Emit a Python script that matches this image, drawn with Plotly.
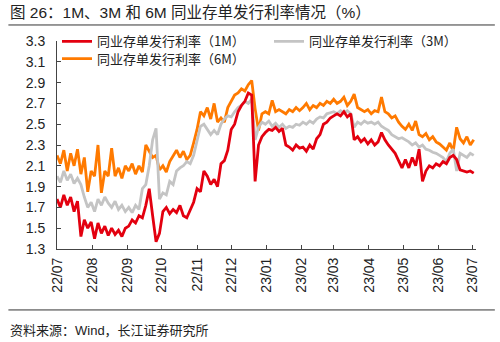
import pandas as pd
import plotly.graph_objects as go

# sample dates: every 3 days from 2022-07-01
dates = pd.date_range("2022-07-01", periods=123, freq="3D")

rate_1m = [
    # Jul 22
    1.78, 1.70, 1.82, 1.72, 1.80, 1.66, 1.76, 1.42, 1.58, 1.50, 1.56,
    # Aug
    1.40, 1.55, 1.45, 1.52, 1.43, 1.50, 1.44, 1.48, 1.42, 1.50,
    # Sep
    1.52, 1.58, 1.55, 1.62, 1.60, 1.72, 1.88, 1.62, 1.37, 1.45,
    # Oct
    1.66, 1.70, 1.64, 1.68, 1.65, 1.72, 1.62, 1.60, 1.68, 1.75,
    # Nov
    1.88, 1.85, 2.05, 2.00, 1.92, 1.97, 1.90, 2.12, 2.15, 2.25,
    # Dec
    2.45, 2.50, 2.62, 2.68, 2.72, 2.80, 2.78, 1.95, 2.30, 2.38,
    # Jan 23
    2.42, 2.45, 2.44, 2.47, 2.43, 2.46, 2.30, 2.28, 2.25, 2.30, 2.27,
    # Feb
    2.28, 2.24, 2.30, 2.26, 2.36, 2.40, 2.50, 2.52, 2.56,
    # Mar
    2.58, 2.60, 2.58, 2.62, 2.57, 2.60, 2.35, 2.38, 2.33, 2.36, 2.31,
    # Apr
    2.35, 2.30, 2.33, 2.42, 2.35, 2.30, 2.26, 2.22, 2.15, 2.08,
    # May
    2.16, 2.08, 2.18, 2.10, 2.26, 1.95, 2.05, 2.10, 2.08, 2.12,
    # Jun
    2.10, 2.14, 2.12, 2.18, 2.20, 2.16, 2.06, 2.05, 2.04, 2.05,
    # Jul
    2.03,
]

rate_3m = [
    # Jul 22
    2.00, 1.94, 2.05, 1.96, 2.02, 1.93, 1.98, 1.92, 1.80, 1.70, 1.75,
    # Aug
    1.66, 1.78, 1.72, 1.80, 1.74, 1.70, 1.76, 1.68, 1.72, 1.66,
    # Sep
    1.70, 1.65, 1.72, 1.68, 1.88, 1.92, 2.10, 2.35, 2.46, 1.78,
    # Oct
    1.84, 1.82, 1.95, 1.92, 2.05, 2.08, 2.10, 2.14, 2.12, 2.20,
    # Nov
    2.35, 2.48, 2.50, 2.45, 2.40, 2.44, 2.40, 2.50, 2.55, 2.58,
    # Dec
    2.57, 2.62, 2.66, 2.68, 2.72, 2.70, 2.74, 2.35, 2.47, 2.52,
    # Jan 23
    2.50, 2.53, 2.48, 2.51, 2.47, 2.50, 2.46, 2.48, 2.47, 2.50, 2.49,
    # Feb
    2.52, 2.50, 2.53, 2.51, 2.55, 2.57, 2.56, 2.60, 2.61,
    # Mar
    2.62, 2.60, 2.63, 2.61, 2.63, 2.60, 2.47, 2.52, 2.50, 2.53, 2.51,
    # Apr
    2.52, 2.50, 2.52, 2.48, 2.46, 2.44, 2.40, 2.38, 2.36, 2.37,
    # May
    2.35, 2.33, 2.30, 2.32, 2.28, 2.30, 2.26, 2.25, 2.23, 2.22,
    # Jun
    2.20, 2.18, 2.14, 2.22, 2.26, 2.05, 2.22, 2.20, 2.18, 2.22,
    # Jul
    2.20,
]

rate_6m = [
    # Jul 22
    2.20, 2.12, 2.25, 2.05, 2.22, 2.10, 2.26, 2.02, 2.18, 1.85, 2.05,
    # Aug
    2.00, 2.30, 1.84, 2.05, 2.00, 2.27, 2.00, 2.08, 1.98, 2.10,
    # Sep
    2.05, 2.12, 2.02, 2.10, 2.04, 2.30, 2.24, 2.18, 2.20, 2.06,
    # Oct
    2.10, 2.04, 2.14, 2.20, 2.25, 2.18, 2.24, 2.16, 2.20, 2.32,
    # Nov
    2.45, 2.62, 2.58, 2.66, 2.55, 2.70, 2.52, 2.56, 2.52, 2.66,
    # Dec
    2.72, 2.78, 2.80, 2.84, 2.82, 2.88, 2.92, 2.65, 2.44, 2.60,
    # Jan 23
    2.62, 2.60, 2.73, 2.62, 2.64, 2.62, 2.60, 2.64, 2.62, 2.66, 2.63,
    # Feb
    2.66, 2.70, 2.64, 2.68, 2.66, 2.70, 2.68, 2.72, 2.70,
    # Mar
    2.74, 2.70, 2.72, 2.76, 2.68, 2.72, 2.79, 2.66, 2.64, 2.62, 2.64,
    # Apr
    2.60, 2.63, 2.62, 2.76, 2.62, 2.60, 2.56, 2.58, 2.52, 2.48,
    # May
    2.45, 2.50, 2.44, 2.53, 2.40, 2.38, 2.41, 2.35, 2.38, 2.33,
    # Jun
    2.31, 2.28, 2.25, 2.32, 2.24, 2.47, 2.36, 2.32, 2.38, 2.30,
    # Jul
    2.35,
]

names = ["同业存单发行利率（1M）", "同业存单发行利率（3M）", "同业存单发行利率（6M）"]
colors = ["#E3000F", "#C4C4C4", "#FF7A00"]

y_ticks = [1.3, 1.5, 1.7, 1.9, 2.1, 2.3, 2.5, 2.7, 2.9, 3.1, 3.3]
x_ticks = pd.date_range("2022-07-01", "2023-07-01", freq="MS")

FONT = "Liberation Sans, Noto Sans CJK SC, sans-serif"
CJK = "Noto Sans CJK SC, sans-serif"

fig = go.Figure()
series = [rate_6m, rate_3m, rate_1m]
order = [2, 1, 0]
legend_ids = {0: "legend", 1: "legend2", 2: "legend3"}
for vals, idx in zip(series, order):
    fig.add_trace(go.Scatter(
        x=dates, y=vals, mode="lines", name=names[idx],
        line=dict(color=colors[idx], width=2.8),
        legend=legend_ids[idx],
    ))

leg_common = dict(
    orientation="v", xanchor="left", yanchor="middle",
    font=dict(family=CJK, size=13, color="#222"),
    bgcolor="rgba(0,0,0,0)", borderwidth=0,
)

fig.update_layout(
    width=500, height=342,
    margin=dict(l=57, r=24, t=41, b=93),
    paper_bgcolor="white", plot_bgcolor="white",
    font=dict(family=FONT, size=12, color="#222"),
    legend=dict(x=0.0, y=0.998, **leg_common),
    legend2=dict(x=0.506, y=0.998, **leg_common),
    legend3=dict(x=0.0, y=0.915, **leg_common),
    xaxis=dict(
        type="date",
        range=["2022-07-01", "2023-07-04"],
        tickvals=list(x_ticks), tickformat="%y/%m", tickangle=-90,
        ticks="inside", ticklen=4, tickcolor="#444",
        showline=True, linecolor="#444", linewidth=1,
        showgrid=False, zeroline=False,
        tickfont=dict(family=FONT, size=14, color="#222"),
        ticklabelstandoff=2,
    ),
    yaxis=dict(
        range=[1.3, 3.3], tickvals=y_ticks, tickformat=".1f",
        ticks="inside", ticklen=4, tickcolor="#444",
        showline=True, linecolor="#444", linewidth=1,
        showgrid=False, zeroline=False,
        tickfont=dict(family=FONT, size=14, color="#222"),
        ticklabelstandoff=8,
    ),
    showlegend=True,
)

# title, rules, and source note
fig.add_annotation(
    text="图 26：1M、3M 和 6M 同业存单发行利率情况（%）",
    xref="paper", yref="paper", x=-0.118, y=1.139, xanchor="left", yanchor="middle",
    showarrow=False, font=dict(family=FONT, size=15.5, color="#222"),
)
fig.add_shape(type="line", xref="paper", yref="paper", x0=-0.116, x1=1.045,
              y0=1.077, y1=1.077, line=dict(color="#333", width=1))
fig.add_shape(type="line", xref="paper", yref="paper", x0=-0.116, x1=1.045,
              y0=-0.293, y1=-0.293, line=dict(color="#333", width=1))
fig.add_annotation(
    text="资料来源：Wind，长江证券研究所",
    xref="paper", yref="paper", x=-0.118, y=-0.39, xanchor="left", yanchor="middle",
    showarrow=False, font=dict(family=FONT, size=13, color="#222"),
)

fig.write_html("out.html")
